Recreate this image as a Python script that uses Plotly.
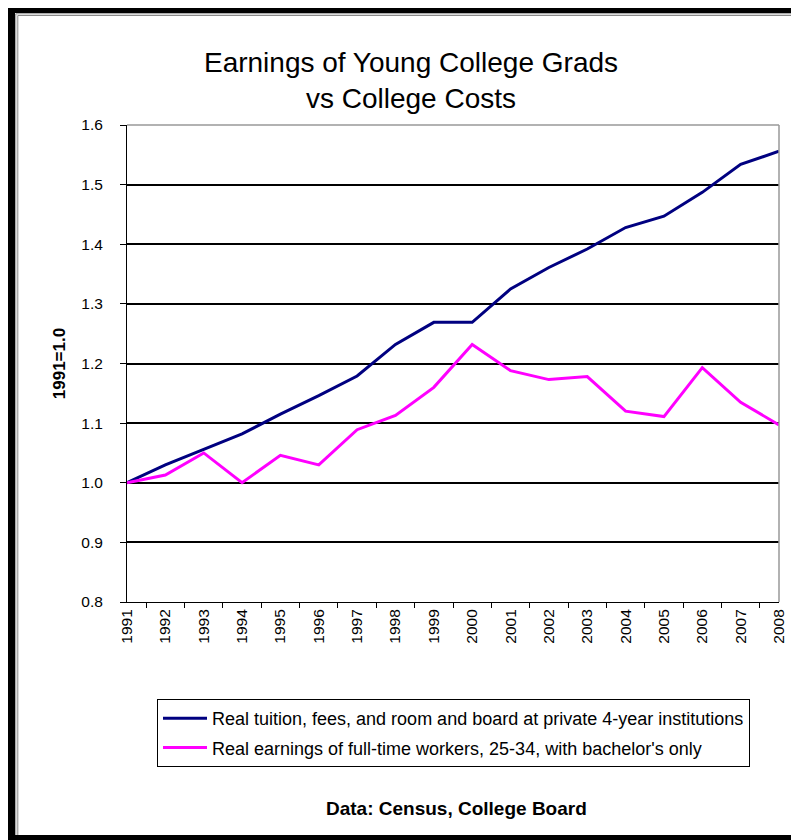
import plotly.graph_objects as go

years = [str(y) for y in range(1991, 2009)]
tuition = [1.000, 1.030, 1.056, 1.082, 1.115, 1.146, 1.179, 1.232, 1.269, 1.269,
           1.325, 1.361, 1.392, 1.428, 1.447, 1.487, 1.534, 1.556]
earnings = [1.000, 1.013, 1.050, 1.000, 1.046, 1.030, 1.089, 1.113, 1.160, 1.232,
            1.188, 1.173, 1.178, 1.120, 1.111, 1.193, 1.135, 1.097]
name_tuition = "Real tuition, fees, and room and board at private 4-year institutions"
name_earnings = "Real earnings of full-time workers, 25-34, with bachelor's only"

# page body has an 8px margin; figure is sized so it fits the 799x840 window
OFF = 8
W, H = 799 - OFF, 840 - OFF
FONT = "Liberation Sans, Arial, sans-serif"

def px(x):
    return (x - OFF) / W

def py(y):
    return 1 - (y - OFF) / H

fig = go.Figure()
fig.add_trace(go.Scatter(x=years, y=tuition, mode="lines", name=name_tuition,
                         legendgroup="a", line=dict(color="#000080", width=3)))
fig.add_trace(go.Scatter(x=years, y=earnings, mode="lines", name=name_earnings,
                         legendgroup="b", line=dict(color="#FF00FF", width=3)))

shapes = [
    # outer black frame
    dict(type="rect", xref="paper", yref="paper", x0=px(8), x1=px(830), y0=py(860), y1=py(5),
         fillcolor="black", line=dict(width=0), layer="below"),
    dict(type="rect", xref="paper", yref="paper", x0=px(15), x1=px(830), y0=py(835), y1=py(13),
         fillcolor="white", line=dict(width=0), layer="below"),
    # thin gray inner lines
    dict(type="line", xref="paper", yref="paper", x0=px(15.8), x1=px(15.8), y0=py(835), y1=py(13.8),
         line=dict(color="#888888", width=1), layer="below"),
    dict(type="line", xref="paper", yref="paper", x0=px(17.8), x1=px(17.8), y0=py(835), y1=py(15.5),
         line=dict(color="#888888", width=1), layer="below"),
    dict(type="line", xref="paper", yref="paper", x0=px(15.8), x1=px(830), y0=py(13.8), y1=py(13.8),
         line=dict(color="#888888", width=1), layer="below"),
    dict(type="line", xref="paper", yref="paper", x0=px(17.8), x1=px(830), y0=py(15.5), y1=py(15.5),
         line=dict(color="#888888", width=1), layer="below"),
    # plot-area gray border top & right
    dict(type="line", xref="x domain", yref="y domain", x0=0, x1=1, y0=1, y1=1,
         line=dict(color="#999999", width=1.5), layer="above"),
    dict(type="line", xref="x domain", yref="y domain", x0=1, x1=1, y0=0, y1=1,
         line=dict(color="#999999", width=1.5), layer="above"),
]

fig.update_layout(
    width=W, height=H, autosize=False,
    margin=dict(l=0, r=0, t=0, b=0),
    paper_bgcolor="white", plot_bgcolor="rgba(0,0,0,0)",
    font=dict(family=FONT, color="black"),
    title=dict(text="Earnings of Young College Grads<br>vs College Costs",
               x=px(411), xanchor="center", y=py(72), yanchor="top", yref="paper",
               font=dict(family=FONT, size=28, color="black")),
    xaxis=dict(type="category", domain=[px(127), px(779)], tickson="boundaries",
               ticks="outside", ticklen=5, tickcolor="black", showline=True,
               linecolor="black", linewidth=1, tickangle=-90, showgrid=False,
               tickfont=dict(family=FONT, size=15.5, color="black"), automargin=False),
    yaxis=dict(range=[0.8, 1.6], dtick=0.1, tick0=0.8, tickformat=".1f",
               domain=[py(602), py(125)], ticks="outside", ticklen=6, tickcolor="black",
               showline=True, linecolor="black", linewidth=1, showgrid=True,
               gridcolor="black", gridwidth=1.5, zeroline=False,
               ticklabelstandoff=14,
               tickfont=dict(family=FONT, size=15.5, color="black"),
               title=dict(text="<b>1991=1.0</b>", standoff=11,
                          font=dict(family=FONT, size=17, color="black")),
               automargin=False),
    legend=dict(x=px(157), xanchor="left", y=py(699), yanchor="top",
                bgcolor="white", bordercolor="black", borderwidth=1,
                font=dict(family=FONT, size=18, color="black"),
                itemwidth=44,
                tracegroupgap=3, traceorder="grouped"),
    showlegend=True,
    shapes=shapes,
    annotations=[dict(text="<b>Data: Census, College Board</b>", xref="paper", yref="paper",
                      x=px(456), y=py(808), xanchor="center", yanchor="middle",
                      showarrow=False, font=dict(family=FONT, size=19, color="black"))],
)

fig.write_html("out.html")
